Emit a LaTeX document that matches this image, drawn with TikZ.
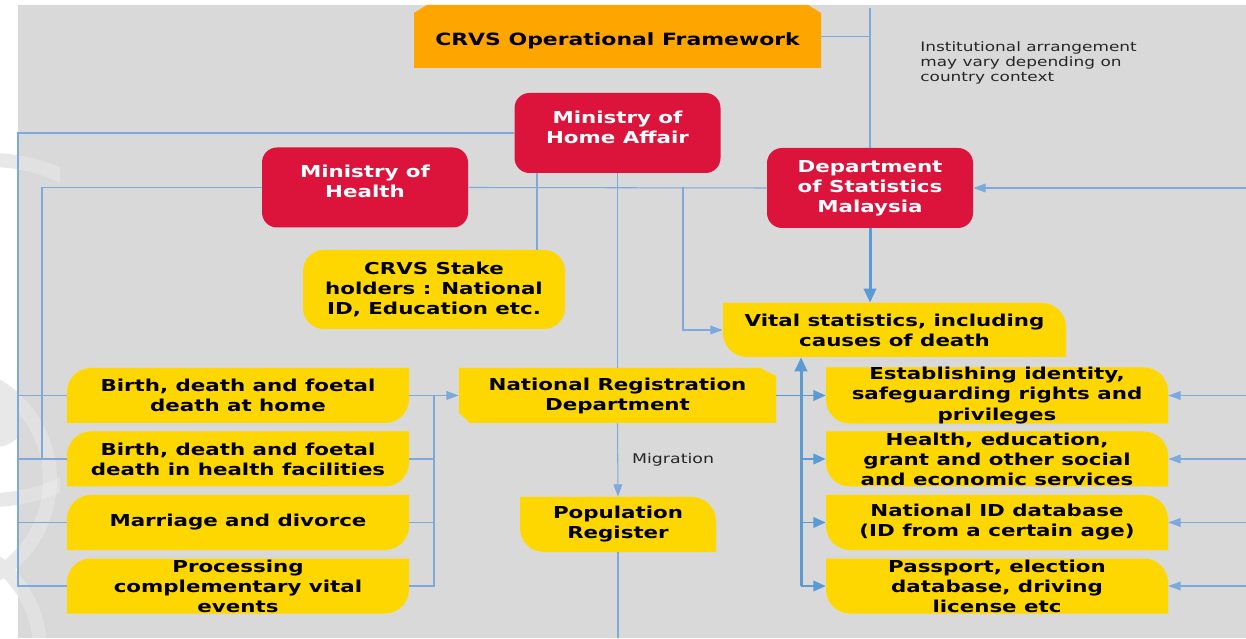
\documentclass[tikz,border=0pt]{standalone}
\usepackage{fontspec}
\setmainfont{DejaVu Sans}[FakeStretch=1.3]
\usepackage{tikz}
\usetikzlibrary{arrows.meta}
\definecolor{crvsred}{HTML}{DC143C}
\definecolor{crvsgold}{HTML}{FFD700}
\definecolor{crvsorange}{HTML}{FFA500}
\definecolor{panel}{HTML}{D9D9D9}
\definecolor{linkblue}{HTML}{7DA9DC}
\definecolor{busblue}{HTML}{5B9BD5}
\newcommand{\boxtext}{\fontsize{9.35}{11.4}\selectfont\bfseries}
\newcommand{\notetext}{\fontsize{7.4}{8.5}\selectfont}
% struts that push a box text up or down a little
\newcommand{\lift}{\rule[-7pt]{0pt}{7pt}}
\newcommand{\sink}{\rule{0pt}{12pt}}
\tikzset{%
  unit/.style     = {align=center, inner sep=0pt, font=\boxtext},%
  ministry/.style = {unit, fill=crvsred, text=white, rounded corners=0.3cm,%
                     minimum width=4.12cm, minimum height=1.6cm},%
  stakebox/.style = {unit, fill=crvsgold, rounded corners=0.42cm,%
                     minimum width=5.24cm, minimum height=1.58cm},%
  % yellow boxes with two opposite corners rounded
  roundne/.style  = {unit, path picture={%
      \fill[crvsgold] (path picture bounding box.north west)
        -- ([xshift=-0.48cm]path picture bounding box.north east)
        arc[start angle=90, end angle=0, radius=0.48cm]
        -- (path picture bounding box.south east)
        -- ([xshift=0.48cm]path picture bounding box.south west)
        arc[start angle=270, end angle=180, radius=0.48cm] -- cycle;}},%
  roundnw/.style  = {unit, path picture={%
      \fill[crvsgold] (path picture bounding box.north east)
        -- ([yshift=0.48cm]path picture bounding box.south east)
        arc[start angle=0, end angle=-90, radius=0.48cm]
        -- (path picture bounding box.south west)
        -- ([yshift=-0.48cm]path picture bounding box.north west)
        arc[start angle=180, end angle=90, radius=0.48cm] -- cycle;}},%
  % snipped corners
  headbox/.style  = {unit, font=\fontsize{9.6}{11.4}\selectfont\bfseries,%
                     minimum width=8.14cm, minimum height=1.26cm, path picture={%
      \fill[crvsorange] (path picture bounding box.south west)
        -- ([yshift=-0.16cm]path picture bounding box.north west)
        -- ([xshift=0.26cm]path picture bounding box.north west)
        -- ([xshift=-0.26cm]path picture bounding box.north east)
        -- ([yshift=-0.16cm]path picture bounding box.north east)
        -- (path picture bounding box.south east) -- cycle;}},%
  office/.style   = {unit, minimum width=6.34cm, minimum height=1.1cm, path picture={%
      \fill[crvsgold] (path picture bounding box.north west)
        -- ([xshift=-0.32cm]path picture bounding box.north east)
        -- ([yshift=-0.16cm]path picture bounding box.north east)
        -- (path picture bounding box.south east)
        -- ([xshift=0.22cm]path picture bounding box.south west)
        -- ([yshift=0.2cm]path picture bounding box.south west) -- cycle;}},%
  event/.style    = {roundnw, minimum width=6.84cm, minimum height=1.1cm},%
  usage/.style    = {roundne, minimum width=6.84cm, minimum height=1.1cm},%
  note/.style     = {align=left, inner sep=0pt, font=\notetext, text=black!85},%
  link/.style     = {draw=linkblue, line width=0.6pt},%
  feed/.style     = {link, -{Triangle[length=7pt,width=5pt]}},%
  branch/.style   = {draw=busblue, line width=1.1pt, -{Triangle[length=7pt,width=6pt]}},%
  bus/.style      = {draw=busblue, line width=1.7pt, -{Triangle[length=8pt,width=7pt]}}%
}

\begin{document}
\begin{tikzpicture}
  % -------------- page and panel --------------------------------------
  \fill[white] (0,0) rectangle (24.92,12.76);
  \useasboundingbox (0,0) rectangle (24.92,12.76);
  \fill[panel] (0.36,0) rectangle (24.92,12.66);
  % faint watermark rings on the left edge
  \begin{scope}
    \clip (0,0) rectangle (0.36,12.76);
    \foreach \cx/\cy/\r in {-0.2/6.16/3.4, -1.2/3.16/2.2, -1.4/-0.24/2.2}
      \draw[black!9, line width=0.28cm] (\cx,\cy) circle[radius=\r];
    \fill[black!9] (-0.1,4.46) circle[radius=0.64];
  \end{scope}
  \begin{scope}
    \clip (0.36,0) rectangle (1.2,12.66);
    \foreach \cx/\cy/\r in {-0.2/6.16/3.4, -1.2/3.16/2.2, -1.4/-0.24/2.2}
      \draw[white, opacity=0.22, line width=0.28cm] (\cx,\cy) circle[radius=\r];
  \end{scope}

  % -------------- boxes --------------------------------------
  \node[headbox] (title) at (12.35,12.03) {\sink CRVS Operational Framework};
  \node[note, anchor=north west] (remark) at (18.4,11.94)
    {Institutional arrangement\\may vary depending on\\country context};

  \node[ministry] (moha) at (12.35,10.10) {Ministry of\\Home Affair\lift};
  \node[ministry] (moh)  at (7.30,9.01)   {Ministry of\\Health\lift};
  \node[ministry] (dosm) at (17.40,9.00)  {Department\\of Statistics\\Malaysia};

  \node[stakebox] (stake) at (8.68,6.97) {CRVS Stake\\holders : National\\ID, Education etc.};
  \node[roundne, minimum width=6.86cm, minimum height=1.08cm] (vital) at (17.89,6.16)
    {Vital statistics, including\\causes of death};
  \node[office] (nrd) at (12.35,4.85) {National Registration\\Department};
  \node[roundne, minimum width=3.92cm, minimum height=1.1cm] (popreg) at (12.36,2.27)
    {Population\\Register};

  \node[event] (event1) at (4.76,4.85) {Birth, death and foetal\\death at home};
  \node[event] (event2) at (4.76,3.58) {Birth, death and foetal\\death in health facilities};
  \node[event] (event3) at (4.76,2.31) {Marriage and divorce};
  \node[event] (event4) at (4.76,1.04) {Processing\\complementary vital\\events};

  \node[usage] (usage1) at (19.94,4.85) {Establishing identity,\\safeguarding rights and\\privileges};
  \node[usage] (usage2) at (19.94,3.58) {Health, education,\\grant and other social\\and economic services};
  \node[usage] (usage3) at (19.94,2.31) {National ID database\\(ID from a certain age)};
  \node[usage] (usage4) at (19.94,1.04) {Passport, election\\database, driving\\license etc};

  % -------------- connectors --------------------------------------
  \coordinate (cap)       at (17.40,12.60);
  \coordinate (farleft)   at (0.36,0);
  \coordinate (hbus)      at (0.84,0);
  \coordinate (lbus)      at (8.68,0);
  \coordinate (rbus)      at (16.02,0);
  \coordinate (tap)       at (13.66,0);
  \coordinate (stakedrop) at (10.74,0);
  \coordinate (rim)       at (24.92,0);
  \coordinate (floor)     at (0,0);

  \draw[link] (dosm.north |- cap) -- (dosm.north);
  \draw[link] (title.east) -- (title.east -| cap);

  % home affairs down the left side to the event boxes
  \draw[link] (moha.west) -| (farleft |- event4.west) -- (event4.west);
  \foreach \n in {1,2,3}
    \draw[link] (farleft |- event\n.west) -- (event\n.west);
  \draw[link] (moh.west) -| (hbus |- event2.west);
  \draw[link] (moh.east) -- (dosm.west);
  \draw[feed] (moh.east -| tap) |- (vital.west);
  \draw[link] (moha.south -| stakedrop) -- (stake.north -| stakedrop);
  \draw[link] (moha.south) -- (nrd.north);

  % events collected into the registration office
  \foreach \n in {2,3}
    \draw[link] (event\n.east) -- (event\n.east -| lbus);
  \draw[link] (event4.east) -| (lbus |- event1.east);
  \draw[feed] (event1.east) -- (nrd.west);

  \draw[feed] (nrd.south) -- (popreg.north)
    node[midway, right, xshift=0.16cm, font=\fontsize{7.6}{9}\selectfont, text=black!85] (miglabel) {Migration};
  \draw[link] (popreg.south) -- (popreg.south |- floor);

  % statistics office and the uses of registration
  \draw[bus] (dosm.south) -- (dosm.south |- vital.north);
  \draw[bus] (rbus |- usage4.west) -- (rbus |- vital.south);
  \draw[branch] (nrd.east) -- (usage1.west);
  \foreach \n in {2,3,4}
    \draw[branch] (rbus |- usage\n.west) -- (usage\n.west);

  \draw[feed] (rim |- dosm.east) -- (dosm.east);
  \foreach \n in {1,...,4}
    \draw[feed] (rim |- usage\n.east) -- (usage\n.east);
\end{tikzpicture}
\end{document}
